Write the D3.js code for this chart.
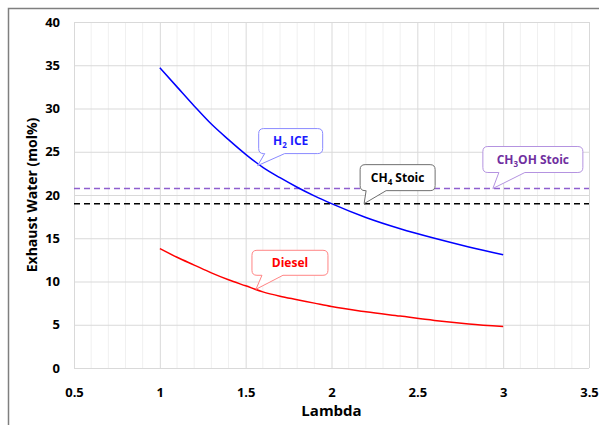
<!DOCTYPE html>
<html>
<head>
<meta charset="utf-8">
<script src="https://cdn.jsdelivr.net/npm/d3@7"></script>
<style>
  body { margin: 0; background: #fff; }
  text { font-family: "Open Sans", sans-serif; font-weight: bold; }
</style>
</head>
<body>
<svg id="chart" width="599" height="425"></svg>
<script>
// lambda values shared by both curves
const lambdaVals = [1.0, 1.1, 1.2, 1.3, 1.4, 1.5, 1.6, 1.7, 1.8, 1.9, 2.0, 2.2, 2.4, 2.6, 2.8, 3.0];
// exhaust water, mol%
const h2Water     = [34.7, 32.5, 30.3, 28.2, 26.4, 24.7, 23.2, 22.0, 20.9, 19.9, 19.0, 17.4, 16.1, 15.0, 14.0, 13.1];
const dieselWater = [13.8, 12.8, 11.9, 11.0, 10.2, 9.5, 8.8, 8.3, 7.9, 7.5, 7.1, 6.5, 6.0, 5.5, 5.1, 4.8];
// stoichiometric reference levels
const ch4Stoic = 19.0;
const ch3ohStoic = 20.75;

const xTicks = [0.5, 1, 1.5, 2, 2.5, 3, 3.5];
const yTicks = [0, 5, 10, 15, 20, 25, 30, 35, 40];

const svg = d3.select("#chart");

// outer chart frame
svg.append("rect")
   .attr("x", 8.5).attr("y", 8.5)
   .attr("width", 620).attr("height", 440)
   .attr("fill", "none").attr("stroke", "#7f7f7f").attr("stroke-width", 1.5);

const margin = { top: 22, right: 10, bottom: 57, left: 74 };
const width = 589 - margin.left,
      height = 368 - margin.top;

const g = svg.append("g")
             .attr("transform", "translate(" + margin.left + "," + margin.top + ")");

const x = d3.scaleLinear().domain([0.5, 3.5]).range([0, width]);
const y = d3.scaleLinear().domain([0, 40]).range([height, 0]);

// minor vertical grid every 0.1
g.append("g")
 .selectAll("line")
 .data(d3.range(6, 35).map(d => d / 10).filter(d => Math.round(d * 10) % 5 != 0))
 .enter().append("line")
   .attr("x1", d => x(d)).attr("x2", d => x(d))
   .attr("y1", 0).attr("y2", height)
   .attr("stroke", "#f0f0f0");

// major grid
g.append("g")
 .attr("transform", `translate(0, ${height})`)
 .call(d3.axisBottom(x).tickValues(xTicks).tickSize(-height).tickFormat(""))
 .call(a => a.select(".domain").remove())
 .selectAll("line").attr("stroke", "#d9d9d9");

g.append("g")
 .call(d3.axisLeft(y).tickValues(yTicks).tickSize(-width).tickFormat(""))
 .call(a => a.select(".domain").remove())
 .selectAll("line").attr("stroke", "#d9d9d9");

// tick labels
g.append("g")
 .attr("transform", `translate(0, ${height})`)
 .call(d3.axisBottom(x).tickValues(xTicks).tickSize(0).tickPadding(20).tickFormat(d3.format("")))
 .call(a => a.select(".domain").remove())
 .selectAll("text")
   .style("font-size", "13px")
   .style("font-family", "Open Sans, sans-serif")
   .attr("fill", "#000");

g.append("g")
 .call(d3.axisLeft(y).tickValues(yTicks).tickSize(0).tickPadding(14))
 .call(a => a.select(".domain").remove())
 .selectAll("text")
   .style("font-size", "13px")
   .style("font-family", "Open Sans, sans-serif")
   .attr("fill", "#000");

// axis titles
svg.append("text")
   .attr("x", margin.left + x(2)).attr("y", 416)
   .attr("text-anchor", "middle")
   .style("font-size", "15px")
   .text("Lambda");

svg.append("text")
   .attr("transform", "translate(37," + (margin.top + y(20)) + ") rotate(-90)")
   .attr("text-anchor", "middle")
   .style("font-size", "14px")
   .text("Exhaust Water (mol%)");

// stoichiometric dashed lines
function hline(val, color) {
  g.append("line")
   .attr("x1", 0).attr("x2", width)
   .attr("y1", y(val)).attr("y2", y(val))
   .attr("stroke", color).attr("stroke-width", 1.5)
   .attr("stroke-dasharray", "6,4");
}
hline(ch3ohStoic, "#8f5fcf");
hline(ch4Stoic, "#000");

// curves
const line = d3.line().x(d => x(d[0])).y(d => y(d[1])).curve(d3.curveMonotoneX);
g.append("path")
 .datum(d3.zip(lambdaVals, h2Water))
 .attr("d", line).attr("fill", "none").attr("stroke", "#0000ff").attr("stroke-width", 1.5);
g.append("path")
 .datum(d3.zip(lambdaVals, dieselWater))
 .attr("d", line).attr("fill", "none").attr("stroke", "#ff0000").attr("stroke-width", 1.5);

// callouts: anchor in data units, box offset in px from anchor
const callouts = [
  { parts: [["H", 0], ["2", 1], [" ICE", 0]], ax: 1.57, ay: 23.4, dx: 1, dy: -37, w: 64, h: 25, t1: 6, t2: 26, color: "#1a1aff", border: "#8a8aff" },
  { parts: [["CH", 0], ["4", 1], [" Stoic", 0]], ax: 2.19, ay: ch4Stoic, dx: -4, dy: -39, w: 75, h: 26, t1: 6, t2: 26, color: "#000", border: "#6f6f6f" },
  { parts: [["CH", 0], ["3", 1], ["OH Stoic", 0]], ax: 2.94, ay: ch3ohStoic, dx: -10, dy: -42, w: 100, h: 26, t1: 16, t2: 42, color: "#7030a0", border: "#b493e0" },
  { parts: [["Diesel", 0]], ax: 1.56, ay: 9.1, dx: -4, dy: -39, w: 76, h: 25, t1: 10, t2: 31, color: "#ff0000", border: "#ff8585" }
];

callouts.forEach(c => {
  const px = x(c.ax), py = y(c.ay);
  const l = px + c.dx, t = py + c.dy, r = l + c.w, b = t + c.h, rr = 5;
  const p = d3.path();
  p.moveTo(l + rr, t);
  p.lineTo(r - rr, t);
  p.quadraticCurveTo(r, t, r, t + rr);
  p.lineTo(r, b - rr);
  p.quadraticCurveTo(r, b, r - rr, b);
  p.lineTo(l + c.t2, b);
  p.lineTo(px, py);
  p.lineTo(l + c.t1, b);
  p.lineTo(l + rr, b);
  p.quadraticCurveTo(l, b, l, b - rr);
  p.lineTo(l, t + rr);
  p.quadraticCurveTo(l, t, l + rr, t);
  p.closePath();
  g.append("path")
   .attr("d", p.toString())
   .attr("fill", "#fff").attr("stroke", c.border).attr("stroke-width", 1);

  const txt = g.append("text")
   .attr("x", l + c.w / 2).attr("y", t + c.h / 2 + 4)
   .attr("text-anchor", "middle")
   .attr("fill", c.color)
   .style("font-size", "12px");
  c.parts.forEach((pt, i) => {
    const prevSub = i > 0 && c.parts[i - 1][1];
    const s = txt.append("tspan").text(pt[0]);
    if (pt[1]) s.attr("dy", 3).style("font-size", "8px");
    else if (prevSub) s.attr("dy", -3);
  });
});
</script>
</body>
</html>
